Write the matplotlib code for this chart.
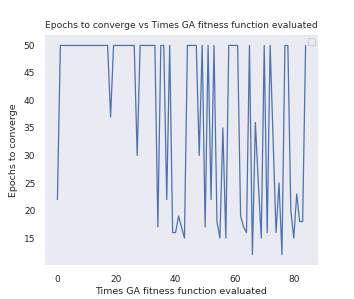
import matplotlib
matplotlib.use("Agg")
import matplotlib.pyplot as plt
import seaborn as sns

times_evaluated = list(range(85))
epochs = [22, 50, 50, 50, 50, 50, 50, 50, 50, 50,
          50, 50, 50, 50, 50, 50, 50, 50, 37, 50,
          50, 50, 50, 50, 50, 50, 50, 30, 50, 50,
          50, 50, 50, 50, 17, 50, 50, 22, 50, 16,
          16, 19, 17, 15, 50, 50, 50, 50, 30, 50,
          17, 50, 22, 50, 18, 15, 35, 15, 50, 50,
          50, 50, 19, 17, 16, 50, 12, 36, 25, 15,
          50, 16, 50, 33, 16, 25, 12, 50, 50, 20,
          15, 23, 18, 18, 50]

sns.set_theme(style="dark")
plt.rcParams['font.family'] = ['DejaVu Sans']

fig = plt.figure(figsize=(3.54, 2.99), dpi=100)
ax = fig.add_axes([45/354, 1 - 265/299, (318-45)/354, (265-35)/299])
ax.plot(times_evaluated, epochs, color="#4C72B0", lw=0.9)
ax.set_title("Epochs to converge vs Times GA fitness function evaluated", fontsize=6.6, pad=5, color="#262626")
ax.set_xlabel("Times GA fitness function evaluated", fontsize=6.8, labelpad=2, color="#262626")
ax.set_ylabel("Epochs to converge", fontsize=6.8, labelpad=4, color="#262626")
ax.tick_params(axis='both', labelsize=6.5, length=0, pad=7, colors="#262626")
ax.set_xticks([0, 20, 40, 60, 80])
ax.set_yticks([15, 20, 25, 30, 35, 40, 45, 50])
for s in ax.spines.values():
    s.set_visible(False)
leg = ax.legend(handles=[], loc="upper right", fontsize=5, borderpad=0.5)
fig.savefig("out.png", dpi=100)
